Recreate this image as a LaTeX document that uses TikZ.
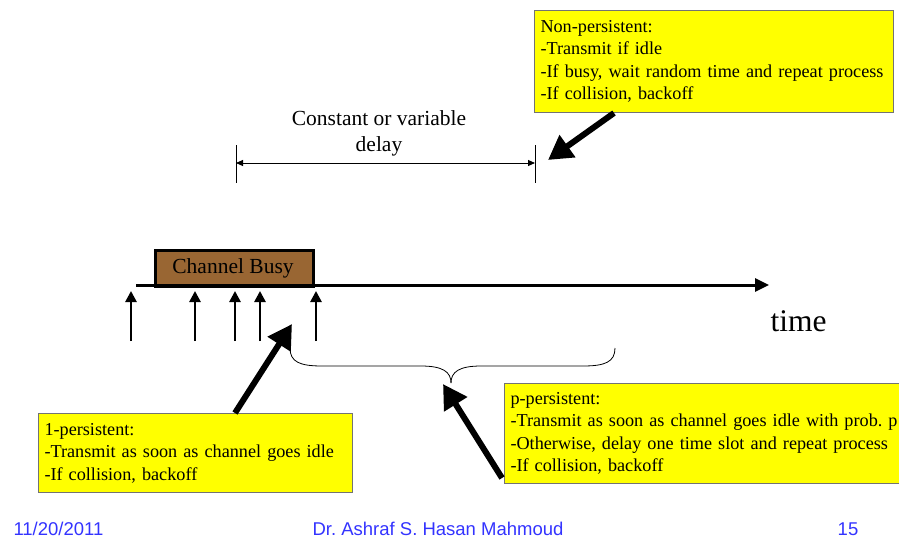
\documentclass[tikz,border=0pt]{standalone}
\usepackage{fontspec}
\setmainfont{Liberation Serif}
\newfontfamily\arialfont{Liberation Sans}
\usetikzlibrary{arrows.meta}
\frenchspacing
\definecolor{busy}{HTML}{996633}
\definecolor{boxyellow}{HTML}{FFFF00}
\definecolor{footblue}{HTML}{3333FF}
\tikzset{
  note/.style={draw=black!55, line width=1pt, fill=boxyellow, anchor=north west, align=left,
    inner xsep=6pt, inner ysep=0pt, font=\fontsize{18.2}{22.4}\selectfont},
  bigarrow/.style={line width=6pt, -{Triangle[length=24pt,width=26pt]}},
  uparrow/.style={line width=2.6pt, -{Triangle[length=11pt,width=11pt]}},
  dimarrow/.style={line width=0.9pt, {Triangle[length=7pt,width=6pt]}-{Triangle[length=7pt,width=6pt]}},
  footer/.style={font=\arialfont\fontsize{18.5}{20}\selectfont, text=footblue, anchor=base}
}
\begin{document}
\begin{tikzpicture}[x=1pt,y=-1pt]
\useasboundingbox (0,0) rectangle (899,552);
% channel busy box
\node[draw, line width=3pt, fill=busy, anchor=north west, minimum width=158pt, minimum height=36pt,
      inner sep=0pt] (busy) at (154,249) {};
\node[font=\fontsize{21.5}{24}\selectfont] (busytxt) at (233,268) {Channel Busy};
% timeline
\coordinate (tl0) at (136,285);
\coordinate (tl1) at (769,285);
\draw[line width=3pt, -{Triangle[length=14pt,width=13pt]}] (tl0) -- (tl1);
\node[anchor=base west, font=\fontsize{31.5}{34}\selectfont] (time) at (767,331) {time};
% up arrows
\foreach \x/\n in {131/a,195/b,235/c,260/d,316/e}{
  \coordinate (u\n0) at (\x,341);
  \coordinate (u\n1) at (\x,291);
  \draw[uparrow] (u\n0) -- (u\n1);
}
% delay dimension
\coordinate (dl0) at (236,145); \coordinate (dl1) at (236,183);
\coordinate (dr0) at (535,145); \coordinate (dr1) at (535,183);
\draw[line width=0.8pt] (dl0) -- (dl1);
\draw[line width=0.8pt] (dr0) -- (dr1);
\coordinate (da) at (236,163); \coordinate (db) at (535,163);
\draw[dimarrow] (da) -- (db);
\node[align=center, font=\fontsize{21.5}{26}\selectfont] (delay) at (379,133) {Constant or variable\\delay};
% notes
\node[note, minimum width=359pt, minimum height=102pt, text width=347pt] (np) at (534,10)
 {Non-persistent:\\-Transmit if idle\\-If busy, wait random time and repeat process\\-If collision, backoff};
\node[note, minimum width=314pt, minimum height=79pt, text width=302pt] (onep) at (38,413)
 {1-persistent:\\-Transmit as soon as channel goes idle\\-If collision, backoff};
\node[note, minimum height=100pt, text width=430pt] (pp) at (504,383)
 {p-persistent:\\-Transmit as soon as channel goes idle with prob. p\\-Otherwise, delay one time slot and repeat process\\-If collision, backoff};
% big arrows
\coordinate (npt) at (548,160);
\draw[bigarrow] (np.south west) ++(80,0) coordinate (nps) -- (npt);
\coordinate (opt) at (292,324);
\draw[bigarrow] (onep.north west) ++(197,0) coordinate (ops) -- (opt);
\coordinate (ppt) at (443,384);
\coordinate (pps) at (502,478);
\draw[bigarrow] (pps) -- (ppt);
% brace
\coordinate (bl) at (290,348); \coordinate (br) at (615,348); \coordinate (bm) at (451,383);
\draw[line width=0.8pt] (bl) .. controls (290,362) and (300,366) .. (322,366) -- (421,366)
  .. controls (443,366) and (451,372) .. (bm);
\draw[line width=0.8pt] (br) .. controls (615,362) and (605,366) .. (583,366) -- (481,366)
  .. controls (459,366) and (451,372) .. (bm);
% footer
\node[footer, anchor=base west] (date) at (10,535) {11/20/2011};
\node[footer] (author) at (438,535) {Dr. Ashraf S. Hasan Mahmoud};
\node[footer] (page) at (848,535) {15};
\end{tikzpicture}
\end{document}
